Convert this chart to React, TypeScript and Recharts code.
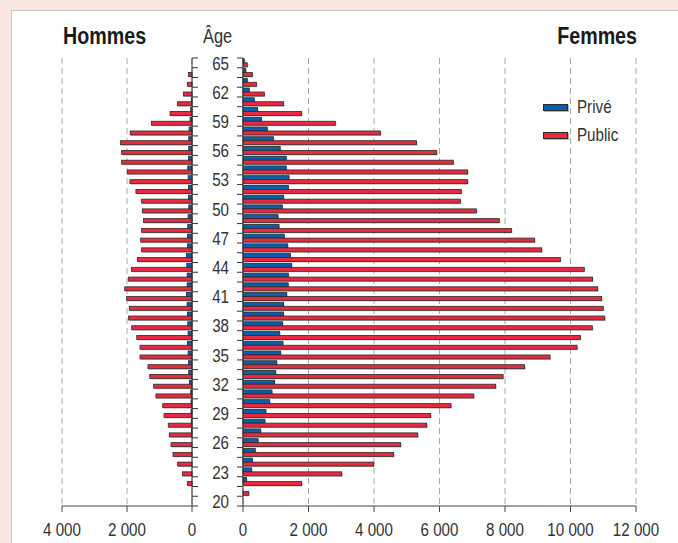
import { Bar, BarChart, CartesianGrid, Legend, XAxis, YAxis } from "recharts";

const AGES = [
  65, 64, 63, 62, 61, 60, 59, 58, 57, 56, 55, 54, 53, 52, 51, 50, 49, 48, 47, 46, 45, 44, 43,
  42, 41, 40, 39, 38, 37, 36, 35, 34, 33, 32, 31, 30, 29, 28, 27, 26, 25, 24, 23, 22, 21, 20,
];

const HOMMES_PRIVE = [
  0, 10, 10, 15, 20, 40, 60, 90, 100, 100, 110, 130, 120, 110, 110, 100, 120, 130, 140, 140, 170, 160, 150,
  150, 170, 150, 140, 130, 120, 140, 120, 110, 100, 80, 40, 30, 30, 20, 20, 15, 10, 10, 10, 5, 0, 0,
];
const HOMMES_PUBLIC = [
  0, 113, 145, 265, 450, 675, 1250, 1900, 2205, 2165, 2165, 1990, 1910, 1725, 1550, 1530, 1490, 1550, 1580, 1550, 1680, 1865, 1960,
  2070, 2010, 1930, 1950, 1855, 1700, 1600, 1600, 1355, 1300, 1180, 1110, 900, 860, 730, 700, 645, 585, 440, 290, 145, 0, 0,
];
const FEMMES_PRIVE = [
  40, 85, 130, 190, 345, 445, 565, 740, 930, 1135, 1320, 1320, 1405, 1385, 1240, 1200, 1070, 1100, 1260, 1365, 1445, 1485, 1385,
  1380, 1335, 1240, 1240, 1210, 1120, 1220, 1150, 1030, 1000, 965, 885, 815, 700, 670, 540, 460, 375, 285, 265, 110, 0, 0,
];
const FEMMES_PUBLIC = [
  130, 285, 410, 650, 1240, 1790, 2820, 4195, 5300, 5915, 6420, 6860, 6860, 6665, 6635, 7125, 7825, 8195, 8905, 9120, 9690, 10420, 10675,
  10830, 10950, 11000, 11045, 10665, 10300, 10200, 9375, 8600, 7940, 7715, 7045, 6350, 5730, 5610, 5335, 4815, 4600, 3990, 3015, 1790, 175, 0,
];

const TICKS_HOMMES = [0, 2000, 4000];
const TICKS_FEMMES = [0, 2000, 4000, 6000, 8000, 10000, 12000];

const hommes = AGES.map((age, i) => ({ age, prive: HOMMES_PRIVE[i], public: HOMMES_PUBLIC[i] }));
const femmes = AGES.map((age, i) => ({ age, prive: FEMMES_PRIVE[i], public: FEMMES_PUBLIC[i] }));

const W = 678;
const H = 543;
const BLUE = "#0a5eab";
const RED = "#e8293e";
// no narrow face installed: squeeze Liberation Sans to get the condensed look
const FONT = '"Liberation Sans", Arial, sans-serif';
const SQUEEZE = 0.82;
const TICK_SIZE = 6;
const TICK_MARGIN = 8;

const fmt = (v: number) => (v === 0 ? "0" : `${v / 1000}\u00a0000`);

function NarrowText({ x, y, anchor = "start", dy, size = 18.5, weight, fill = "#333", children }: any) {
  return (
    <text
      transform={`translate(${x} ${y}) scale(${SQUEEZE} 1)`}
      textAnchor={anchor}
      dy={dy}
      fontFamily={FONT}
      fontSize={size}
      fontWeight={weight}
      fill={fill}
    >
      {children}
    </text>
  );
}

// bar with dark outline and a light drop shadow
function BarShape(props: any) {
  const { x, y, width, height, fill } = props;
  const w = Math.abs(width);
  if (!w || w < 0.5) return null;
  const x0 = width < 0 ? x + width : x;
  return (
    <g>
      <rect x={x0 + 1} y={y + 1} width={w} height={height} fill="#8c8c8c" opacity={0.5} />
      <rect x={x0} y={y} width={w} height={height} fill={fill} stroke="#2b2b2b" strokeWidth={0.8} />
    </g>
  );
}

// ticks sit on the band boundaries, labels every 3 years
function AgeTick(props: any) {
  const { x, y, payload, side, showLabel } = props;
  const half = typeof payload?.offset === "number" && payload.offset > 0 ? payload.offset : 4.87;
  const axisX = side === "left" ? x + TICK_SIZE + TICK_MARGIN : x - TICK_SIZE - TICK_MARGIN;
  const tipX = side === "left" ? axisX - TICK_SIZE : axisX + TICK_SIZE;
  const age = Number(payload.value);
  const last = age === AGES[AGES.length - 1];
  return (
    <g>
      <line x1={axisX} x2={tipX} y1={y - half} y2={y - half} stroke="#333" strokeWidth={1} />
      {last && <line x1={axisX} x2={tipX} y1={y + half} y2={y + half} stroke="#333" strokeWidth={1} />}
      {showLabel && (age - 20) % 3 === 0 && (
        <NarrowText x={x} y={y} dy="0.36em" anchor="end">
          {age}
        </NarrowText>
      )}
    </g>
  );
}

function ValueTick({ x, y, payload }: any) {
  return (
    <NarrowText x={x} y={y} dy="0.71em" anchor="middle">
      {fmt(payload.value)}
    </NarrowText>
  );
}

function LegendContent({ payload }: any) {
  return (
    <div>
      {(payload ?? []).map((e: any) => (
        <div key={e.value} style={{ display: "flex", alignItems: "center", height: 28 }}>
          <span
            style={{
              width: 23,
              height: 5,
              background: e.color,
              border: "1px solid #2b2b2b",
              boxShadow: "1px 1px 0 rgba(0,0,0,0.3)",
              marginRight: 9,
            }}
          />
          <span
            style={{
              display: "inline-block",
              fontFamily: FONT,
              fontSize: 18.5,
              color: "#333",
              transform: `scaleX(${SQUEEZE})`,
              transformOrigin: "left center",
            }}
          >
            {e.value}
          </span>
        </div>
      ))}
    </div>
  );
}

export default function App() {
  return (
    <div style={{ position: "absolute", left: 0, top: 0, width: W, height: H, background: "#fbe7e1", overflow: "hidden" }}>
      <div
        style={{
          position: "absolute",
          left: 11,
          top: 10,
          right: -5,
          bottom: -5,
          background: "#fff",
          borderTop: "1.5px solid #c4c4c4",
          borderLeft: "1.5px solid #c4c4c4",
        }}
      />
      <div style={{ position: "absolute", left: 0, top: 0 }}>
        <BarChart
          width={W}
          height={H}
          data={hommes}
          layout="vertical"
          margin={{ top: 58, right: W - 192 - 10, bottom: 0, left: 62 }}
          barCategoryGap={0.8}
          barGap={0}
        >
          <CartesianGrid horizontal={false} strokeDasharray="6 4" stroke="#a8a8a8" />
          <XAxis
            type="number"
            domain={[0, 4000]}
            ticks={TICKS_HOMMES}
            reversed
            height={37}
            tick={<ValueTick />}
            tickSize={6}
            tickMargin={11}
            axisLine={{ stroke: "#444" }}
            tickLine={{ stroke: "#444" }}
          />
          <YAxis
            type="category"
            dataKey="age"
            orientation="right"
            width={10}
            interval={0}
            tickSize={TICK_SIZE}
            tickMargin={TICK_MARGIN}
            tickLine={false}
            axisLine={{ stroke: "#333" }}
            tick={(p: any) => <AgeTick {...p} side="right" showLabel={false} />}
          />
          <Bar dataKey="prive" name="Privé" fill={BLUE} shape={<BarShape />} isAnimationActive={false} />
          <Bar dataKey="public" name="Public" fill={RED} shape={<BarShape />} isAnimationActive={false} />
        </BarChart>
      </div>
      <div style={{ position: "absolute", left: 0, top: 0 }}>
        <BarChart
          width={W}
          height={H}
          data={femmes}
          layout="vertical"
          margin={{ top: 58, right: W - 636, bottom: 0, left: 233 }}
          barCategoryGap={0.8}
          barGap={0}
        >
          <CartesianGrid horizontal={false} strokeDasharray="6 4" stroke="#a8a8a8" />
          <XAxis
            type="number"
            domain={[0, 12000]}
            ticks={TICKS_FEMMES}
            height={37}
            tick={<ValueTick />}
            tickSize={6}
            tickMargin={11}
            axisLine={{ stroke: "#444" }}
            tickLine={{ stroke: "#444" }}
          />
          <YAxis
            type="category"
            dataKey="age"
            orientation="left"
            width={10}
            interval={0}
            tickSize={TICK_SIZE}
            tickMargin={TICK_MARGIN}
            tickLine={false}
            axisLine={{ stroke: "#333" }}
            tick={(p: any) => <AgeTick {...p} side="left" showLabel />}
          />
          <Legend
            layout="vertical"
            align="center"
            verticalAlign="middle"
            wrapperStyle={{ left: 543, top: 93, width: 110, height: 56 }}
            content={LegendContent}
          />
          <Bar dataKey="prive" name="Privé" fill={BLUE} shape={<BarShape />} isAnimationActive={false} />
          <Bar dataKey="public" name="Public" fill={RED} shape={<BarShape />} isAnimationActive={false} />
        </BarChart>
      </div>
      <svg width={W} height={H} style={{ position: "absolute", left: 0, top: 0, pointerEvents: "none" }}>
        <NarrowText x={63} y={44} size={24} weight="bold" fill="#1a1a1a">
          Hommes
        </NarrowText>
        <NarrowText x={203} y={43} size={20}>
          Âge
        </NarrowText>
        <NarrowText x={637} y={44} anchor="end" size={24} weight="bold" fill="#1a1a1a">
          Femmes
        </NarrowText>
      </svg>
    </div>
  );
}
